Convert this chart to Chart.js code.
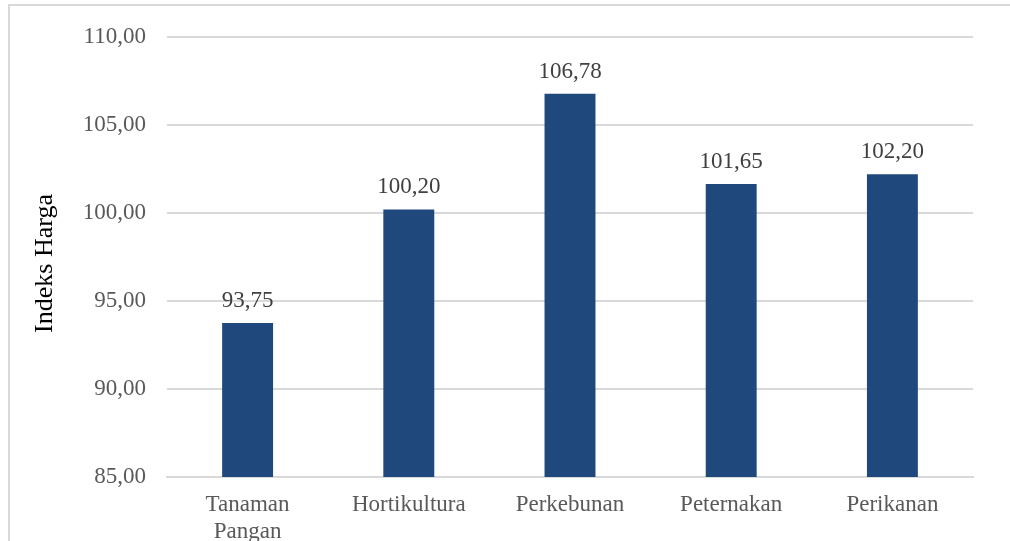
<!DOCTYPE html>
<html>
<head>
<meta charset="utf-8">
<script src="https://cdn.jsdelivr.net/npm/chart.js@4.4.0/dist/chart.umd.min.js"></script>
<style>
  html, body { margin: 0; padding: 0; background: #fff; overflow: hidden; }
  #wrap { position: relative; width: 1010px; height: 541px; }
  #frame { position: absolute; left: 8px; top: 4px; width: 1010px; height: 600px;
           border: 2px solid #d9d9d9; pointer-events: none; }
</style>
</head>
<body>
<div id="wrap">
  <canvas id="chart" width="1010" height="541"></canvas>
  <div id="frame"></div>
</div>
<script>
const categories = [['Tanaman', 'Pangan'], 'Hortikultura', 'Perkebunan', 'Peternakan', 'Perikanan']
const values = [93.75, 100.20, 106.78, 101.65, 102.20]
const yTicks = [85, 90, 95, 100, 105, 110]
const axisTitle = 'Indeks Harga'

const fmt = v => v.toFixed(2).replace('.', ',')

// labels above the bars
const valueLabels = {
  id: 'valueLabels',
  afterDatasetsDraw(chart) {
    const ctx = chart.ctx
    const meta = chart.getDatasetMeta(0)
    ctx.save()
    ctx.font = '23px "Liberation Serif"'
    ctx.fillStyle = '#404040'
    ctx.textAlign = 'center'
    ctx.textBaseline = 'alphabetic'
    meta.data.forEach(function(bar, i) {
      ctx.fillText(fmt(values[i]), bar.x, bar.y - 16)
    })
    ctx.restore()
  }
}

document.addEventListener("DOMContentLoaded", function() {
  let el = document.getElementById('chart')
  new Chart(el, {
    type: 'bar',
    data: {
      labels: categories,
      datasets: [{
        data: values,
        backgroundColor: '#1f497d',
        borderWidth: 0,
        barPercentage: 0.316,
        categoryPercentage: 1
      }]
    },
    options: {
      responsive: false,
      animation: false,
      layout: { padding: { top: 37, right: 37, bottom: 0, left: 0 } },
      plugins: { legend: { display: false }, tooltip: { enabled: false } },
      scales: {
        y: {
          min: yTicks[0],
          max: yTicks[yTicks.length - 1],
          afterBuildTicks: function(scale) { scale.ticks = yTicks.map(v => ({ value: v })) },
          afterFit: function(scale) { scale.width = 167 },
          border: { display: false },
          grid: { color: '#d9d9d9', lineWidth: 2, drawTicks: false },
          ticks: {
            padding: 21,
            color: '#595959',
            font: { family: 'Liberation Serif', size: 23 },
            callback: v => fmt(v)
          },
          title: {
            display: true,
            text: axisTitle + '  ',
            color: '#000',
            font: { family: 'Liberation Serif', size: 26 },
            padding: { top: 30, bottom: 0 }
          }
        },
        x: {
          afterFit: function(scale) { scale.height = 64 },
          border: { display: true, color: '#d9d9d9', width: 2 },
          grid: { display: false, drawTicks: false },
          ticks: {
            padding: 14,
            maxRotation: 0,
            color: '#595959',
            font: { family: 'Liberation Serif', size: 23, lineHeight: 1.2 }
          }
        }
      }
    },
    plugins: [valueLabels]
  })
})
</script>
</body>
</html>
